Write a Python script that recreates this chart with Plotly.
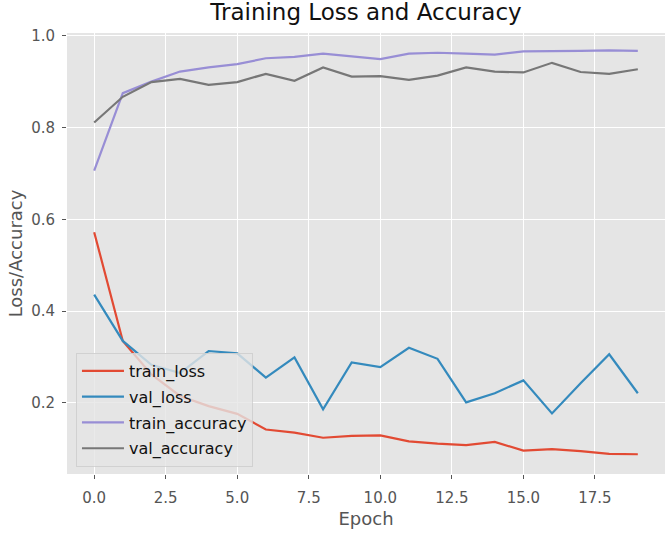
import plotly.graph_objects as go

epochs = list(range(20))
train_loss = [0.572, 0.335, 0.262, 0.215, 0.193, 0.176, 0.142, 0.135, 0.124, 0.128,
              0.129, 0.116, 0.111, 0.108, 0.115, 0.096, 0.099, 0.095, 0.089, 0.088]
val_loss = [0.436, 0.335, 0.283, 0.265, 0.313, 0.308, 0.255, 0.299, 0.186, 0.288,
            0.278, 0.320, 0.296, 0.201, 0.221, 0.249, 0.177, 0.243, 0.306, 0.221]
train_accuracy = [0.706, 0.875, 0.900, 0.922, 0.931, 0.938, 0.951, 0.954, 0.961, 0.955,
                  0.949, 0.961, 0.963, 0.961, 0.959, 0.966, 0.966, 0.967, 0.968, 0.967]
val_accuracy = [0.811, 0.867, 0.899, 0.906, 0.893, 0.899, 0.917, 0.902, 0.931, 0.911,
                0.912, 0.904, 0.913, 0.931, 0.922, 0.920, 0.941, 0.921, 0.917, 0.927]

series_names = ["train_loss", "val_loss", "train_accuracy", "val_accuracy"]
series_values = [train_loss, val_loss, train_accuracy, val_accuracy]
colors = ["#E24A33", "#348ABD", "#988ED5", "#777777"]

x_ticks = [0, 2.5, 5, 7.5, 10, 12.5, 15, 17.5]
x_tick_labels = ["0.0", "2.5", "5.0", "7.5", "10.0", "12.5", "15.0", "17.5"]
y_ticks = [0.2, 0.4, 0.6, 0.8, 1.0]
y_tick_labels = ["0.2", "0.4", "0.6", "0.8", "1.0"]

FONT = "DejaVu Sans"

fig = go.Figure()
for i, (name, vals, col) in enumerate(zip(series_names, series_values, colors)):
    fig.add_trace(go.Scatter(
        x=epochs, y=vals, mode="lines", name=name,
        line=dict(color=col, width=2.2),
        legendgroup=f"g{i}",
    ))

fig.update_layout(
    width=666, height=533,
    margin=dict(l=67, r=1, t=33, b=59),
    paper_bgcolor="white",
    plot_bgcolor="#E5E5E5",
    font=dict(family=FONT, color="#555555"),
    title=dict(
        text="Training Loss and Accuracy",
        font=dict(family=FONT, size=23, color="#111111"),
        x=0.5, xref="paper", xanchor="center",
        y=0.992, yref="container", yanchor="top",
    ),
    showlegend=True,
    legend=dict(
        x=0.015, y=0.016, xanchor="left", yanchor="bottom",
        bgcolor="rgba(229,229,229,0.8)",
        bordercolor="rgba(204,204,204,0.8)", borderwidth=1,
        font=dict(family=FONT, size=16, color="#111111"),
        tracegroupgap=2,
        itemwidth=42,
    ),
)

fig.update_xaxes(
    range=[-0.95, 19.95],
    tickvals=x_ticks, ticktext=x_tick_labels,
    ticks="outside", ticklen=4, tickcolor="#555555", tickwidth=1,
    tickfont=dict(family=FONT, size=15, color="#555555"),
    ticklabelstandoff=6,
    showgrid=True, gridcolor="white", gridwidth=1.2,
    zeroline=False, showline=False,
    title=dict(text="Epoch", font=dict(family=FONT, size=18, color="#555555"), standoff=6),
)
fig.update_yaxes(
    range=[0.045, 1.006],
    tickvals=y_ticks, ticktext=y_tick_labels,
    ticks="outside", ticklen=4, tickcolor="#555555", tickwidth=1,
    tickfont=dict(family=FONT, size=15, color="#555555"),
    ticklabelstandoff=4,
    showgrid=True, gridcolor="white", gridwidth=1.2,
    zeroline=False, showline=False,
    title=dict(text="Loss/Accuracy", font=dict(family=FONT, size=18, color="#555555"), standoff=3),
)

fig.write_html(
    "out.html",
    config={"displayModeBar": False},
    post_script="document.body.style.margin='0';document.body.style.overflow='hidden';",
)
